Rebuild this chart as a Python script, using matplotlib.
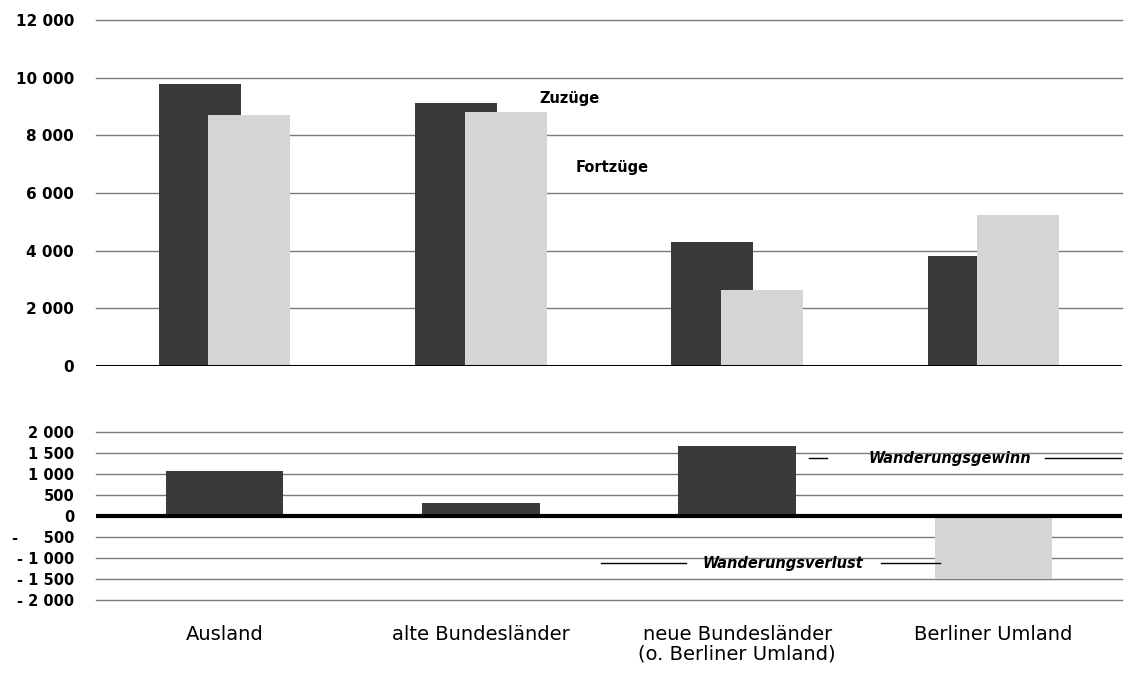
import matplotlib
matplotlib.use('Agg')
import matplotlib.pyplot as plt
import numpy as np

plt.rcParams['font.family'] = ['DejaVu Sans']

# values
regions = ['Ausland', 'alte Bundesländer', 'neue Bundesländer\n(o. Berliner Umland)', 'Berliner Umland']
zuzuege = [9780, 9120, 4300, 3820]
fortzuege = [8700, 8810, 2640, 5240]
saldo = [1080, 310, 1660, -1500]

top_ticks = [0, 2000, 4000, 6000, 8000, 10000, 12000]
top_labels = ['0', '2 000', '4 000', '6 000', '8 000', '10 000', '12 000']
bottom_ticks = [-2000, -1500, -1000, -500, 0, 500, 1000, 1500, 2000]
bottom_labels = ['- 2 000', '- 1 500', '- 1 000', '-     500', '0', '500', '1 000', '1 500', '2 000']

dark = '#3a3a3a'
light = '#d5d5d5'
grid_col = '#7a7a7a'

fig = plt.figure(figsize=(11.33, 6.75), dpi=100)
ax1 = fig.add_axes([0.085, 0.458, 0.905, 0.512])
ax2 = fig.add_axes([0.085, 0.111, 0.905, 0.249])

x = np.arange(len(regions))

# upper panel: Zuzuege / Fortzuege
for v in top_ticks[1:]:
    ax1.axhline(v, color=grid_col, lw=1.0, zorder=0, clip_on=False)
ax1.axhline(0, color='black', lw=2.2, zorder=3)
ax1.bar(x - 0.097, zuzuege, width=0.32, color=dark, zorder=1)
ax1.bar(x + 0.097, fortzuege, width=0.32, color=light, zorder=2)
ax1.set_xlim(-0.5, 3.5)
ax1.set_ylim(0, 12000)
ax1.set_yticks(top_ticks)
ax1.set_yticklabels(top_labels, fontsize=11, fontweight='bold')
ax1.set_xticks([])
ax1.text(1.23, 9280, 'Zuzüge', fontsize=10.5, fontweight='bold', ha='left', va='center')
ax1.text(1.37, 6900, 'Fortzüge', fontsize=10.5, fontweight='bold', ha='left', va='center')

# lower panel: Wanderungssaldo
for v in bottom_ticks:
    if v != 0:
        ax2.axhline(v, color=grid_col, lw=1.0, zorder=0, clip_on=False)
ax2.axhline(0, color='black', lw=3, zorder=3)
cols = [dark if s >= 0 else light for s in saldo]
ax2.bar(x, saldo, width=0.46, color=cols, zorder=2)
ax2.set_xlim(-0.5, 3.5)
ax2.set_ylim(-2000, 2000)
ax2.set_yticks(bottom_ticks)
ax2.set_yticklabels(bottom_labels, fontsize=10.5, fontweight='bold')
ax2.set_xticks(x)
ax2.set_xticklabels(regions, fontsize=14, linespacing=1.05)
ax2.tick_params(axis='x', length=0, pad=18)

ax2.text(2.83, 1380, 'Wanderungsgewinn', fontsize=10.5, fontweight='bold', style='italic',
         ha='center', va='center')
ax2.plot([2.28, 2.35], [1380, 1380], color='black', lw=1, zorder=3)
ax2.plot([3.20, 3.5], [1380, 1380], color='black', lw=1, zorder=3)
ax2.text(2.18, -1120, 'Wanderungsverlust', fontsize=10.5, fontweight='bold', style='italic',
         ha='center', va='center')
ax2.plot([1.47, 1.80], [-1120, -1120], color='black', lw=1, zorder=3)
ax2.plot([2.56, 2.79], [-1120, -1120], color='black', lw=1, zorder=3)

for ax in (ax1, ax2):
    for s in ax.spines.values():
        s.set_visible(False)
    ax.tick_params(axis='y', length=0, pad=16)

fig.savefig('out.png', dpi=100, facecolor='white')
